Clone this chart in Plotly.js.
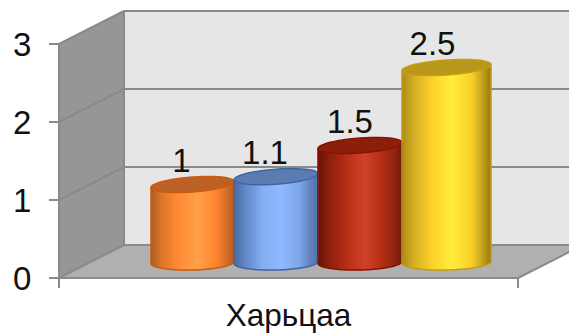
<!DOCTYPE html>
<html>
<head>
<meta charset="utf-8">
<script src="https://cdn.plot.ly/plotly-3.0.1.min.js"></script>
<style>html,body{margin:0;padding:0;background:#fff}</style>
</head>
<body>
<div id="chart" style="width:569px;height:333px"></div>
<script>
// Chart data
const category = 'Харьцаа';
const values = [1, 1.1, 1.5, 2.5];
const valueTicks = [0, 1, 2, 3];

// Cylinder colouring: [offset across the body, colour]
const bodyStops = [
  [[0, '#b05a20'], [0.12, '#d9742c'], [0.32, '#ff8a33'], [0.56, '#ffa04a'], [0.78, '#ff8630'], [0.93, '#cf6c28'], [1, '#b45c20']],
  [[0, '#4a6aa5'], [0.12, '#5f84c4'], [0.34, '#85adf2'], [0.56, '#90baff'], [0.78, '#7fa6e8'], [0.93, '#5e7fb8'], [1, '#4f70a8']],
  [[0, '#651308'], [0.12, '#8a1f0e'], [0.34, '#b52f17'], [0.56, '#d0432a'], [0.78, '#b02c14'], [0.93, '#8a2410'], [1, '#6e1a0a']],
  [[0, '#a98c18'], [0.12, '#d2ac24'], [0.34, '#fcd22a'], [0.56, '#ffec3c'], [0.78, '#fbd12a'], [0.93, '#b89a1c'], [1, '#94790f']]
];
const capColors = ['#bd6226', '#5a7cb0', '#8a1f0c', '#b8971a'];
const rimColors = ['#cf5a0c', '#3f64a4', '#8c0f00', '#c49f10'];

// Scale of the page-filling plot area
const PX_X = 459, PX_Y = 78;
const X_LEFT = 59, Y_ZERO = 278, W = 569, H = 333;
const px = n => n / PX_X, py = n => n / PX_Y;

// Depth of the box and the set-back of the cylinders on its floor
const depthX = px(65), depthY = py(33);
const setBack = py(15.5);
const capB = py(7.5), tiltTop = py(3), tiltBase = py(1);
// Left and right edges of the cluster inside the category band
const edges = [151, 234, 318, 402, 491].map(n => px(n - X_LEFT) - 0.5);
// Horizontal nudge of each value label, in pixels
const labelNudge = [-11, -11, -10, -14];

const grey = '#8a8a8a';
const poly = pts => 'M' + pts.map(p => p[0] + ',' + p[1]).join('L');
const shapes = [];

// Walls and floor of the box
shapes.push({type: 'path', layer: 'below', line: {width: 0},
  fillcolor: '#e6e6e6',
  path: poly([[-0.5 + depthX, depthY], [0.5 + depthX, depthY], [0.5 + depthX, 3 + depthY], [-0.5 + depthX, 3 + depthY]]) + 'Z'});
shapes.push({type: 'path', layer: 'below', line: {width: 0},
  fillcolor: '#969696',
  path: poly([[-0.5, 0], [-0.5 + depthX, depthY], [-0.5 + depthX, 3 + depthY], [-0.5, 3]]) + 'Z'});
shapes.push({type: 'path', layer: 'below', line: {width: 0},
  fillcolor: '#b0b0b0',
  path: poly([[-0.5, 0], [0.5, 0], [0.5 + depthX, depthY], [-0.5 + depthX, depthY]]) + 'Z'});

const rule = (x0, y0, x1, y1) => ({type: 'line', layer: 'below', x0, y0, x1, y1,
  line: {color: grey, width: 2}});
valueTicks.forEach(v => {
  shapes.push(rule(-0.5, v, -0.5 + depthX, v + depthY));
  shapes.push(rule(-0.5 + depthX, v + depthY, 0.5 + depthX, v + depthY));
});
shapes.push(rule(-0.5 + depthX, depthY, -0.5 + depthX, 3 + depthY));
shapes.push(rule(-0.5, -py(10), -0.5, 3));
shapes.push(rule(-0.5, 0, 0.5, 0));
shapes.push(rule(0.5, -py(10), 0.5, 0));
shapes.push(rule(0.5, 0, 0.5 + depthX, depthY));

function hexToRgb(h) {
  return [1, 3, 5].map(i => parseInt(h.substr(i, 2), 16));
}
function stopColor(stops, f) {
  for (let i = 1; i < stops.length; i++) {
    if (f <= stops[i][0]) {
      const a = stops[i - 1], b = stops[i];
      const k = (f - a[0]) / (b[0] - a[0]);
      const ca = hexToRgb(a[1]), cb = hexToRgb(b[1]);
      return 'rgb(' + ca.map((c, j) => Math.round(c + (cb[j] - c) * k)).join(',') + ')';
    }
  }
  return stops[stops.length - 1][1];
}

const traces = [];
values.forEach((value, s) => {
  const left = edges[s], right = edges[s + 1];
  const mid = (left + right) / 2, half = (right - left) / 2;
  const stripCount = Math.round((right - left) * PX_X);
  const stripW = (right - left) / stripCount;
  const x = [], y = [], base = [], color = [], width = [];
  for (let i = 0; i < stripCount; i++) {
    const f = (i + 0.5) / stripCount, t = 2 * f - 1;
    x.push(left + (i + 0.5) * stripW);
    // Each strip is a slice of the curved front face, as tall as the value
    y.push(value + (tiltTop - tiltBase) * t);
    base.push(setBack - capB * Math.sqrt(1 - t * t) + tiltBase * t);
    color.push(stopColor(bodyStops[s], f));
    width.push(stripW * 1.25);
  }
  traces.push({type: 'bar', x, y, base, width, hoverinfo: 'skip',
    marker: {color, line: {width: 0}}, showlegend: false, name: 'Харьцаа ' + value});

  // Outline of the body and the elliptical cap
  const arc = (from, to, cy, tilt) => {
    const pts = [];
    for (let k = 0; k <= 48; k++) {
      const th = from + (to - from) * k / 48;
      pts.push([mid + half * Math.cos(th), cy + capB * Math.sin(th) + tilt * Math.cos(th)]);
    }
    return pts;
  };
  const topY = value + setBack;
  const lower = arc(Math.PI, 2 * Math.PI, setBack, tiltBase);
  shapes.push({type: 'path', layer: 'above', fillcolor: 'rgba(0,0,0,0)',
    line: {color: rimColors[s], width: 1.5},
    path: poly([[mid - half, topY - tiltTop]].concat(lower, [[mid + half, topY + tiltTop]]))});
  shapes.push({type: 'path', layer: 'above', fillcolor: capColors[s],
    line: {color: rimColors[s], width: 1.5},
    path: poly(arc(0, 2 * Math.PI, topY, tiltTop)) + 'Z'});
});

// Value labels, sitting just above and left of each cap
traces.push({type: 'scatter', mode: 'text', hoverinfo: 'skip', showlegend: false,
  x: values.map((v, s) => (edges[s] + edges[s + 1]) / 2 + px(labelNudge[s])),
  y: values.map(v => v + setBack + capB - py(3)),
  text: values.map(String), textposition: 'top center',
  cliponaxis: false,
  textfont: {family: 'Liberation Sans, Arial, sans-serif', size: 33, color: '#111'}});

const layout = {
  width: W, height: H, autosize: false,
  margin: {l: 0, r: 0, t: 0, b: 0, pad: 0},
  paper_bgcolor: '#fff', plot_bgcolor: '#fff',
  showlegend: false, hovermode: false, barmode: 'overlay',
  font: {family: 'Liberation Sans, Arial, sans-serif', color: '#111'},
  xaxis: {
    range: [-0.5 - px(X_LEFT), -0.5 - px(X_LEFT) + px(W)],
    tickvals: [0], ticktext: [category], ticks: '', showgrid: false,
    zeroline: false, showline: false, anchor: 'free',
    position: (H - Y_ZERO) / H, ticklabelstandoff: 15,
    tickfont: {size: 31.5}
  },
  yaxis: {
    range: [-(H - Y_ZERO) / PX_Y, Y_ZERO / PX_Y],
    tickvals: valueTicks, ticks: 'outside', ticklen: 10, tickwidth: 2, tickcolor: grey,
    showgrid: false, zeroline: false, showline: false, anchor: 'free',
    position: X_LEFT / W, ticklabelstandoff: 11,
    tickfont: {size: 33}
  },
  shapes
};
Plotly.newPlot('chart', traces, layout, {displayModeBar: false, staticPlot: true});
</script>
</body>
</html>
